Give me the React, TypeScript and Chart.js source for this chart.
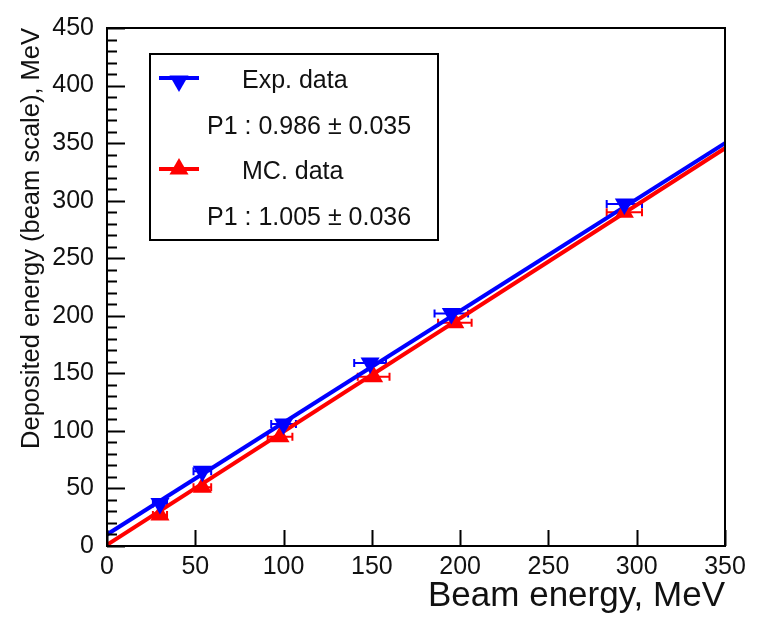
import React, { useEffect, useRef } from 'react';
import { Chart, registerables } from 'chart.js';

Chart.register(...registerables);

// ---- data ----
const beamEnergyExp = [30, 54, 100, 149, 195, 293];
const depositedExp = [37, 65, 106, 159, 202, 297];
const beamErrExp = [4, 5, 7, 9, 9.5, 10];

const beamEnergyMC = [30, 54, 98, 151, 197, 293];
const depositedMC = [27, 51, 95, 147, 194, 290];
const beamErrMC = [4, 5, 7, 9, 9.5, 10];

const fitX = [0, 350];
const fitExp = [10, 350];
const fitMC = [1, 345.5];

const xTicks = [0, 50, 100, 150, 200, 250, 300, 350];
const yTicks = [0, 50, 100, 150, 200, 250, 300, 350, 400, 450];
const yMinorStep = 10;

const seriesNames = ['Exp. data', 'MC. data'];
const fitLabels = ['P1 : 0.986 \u00b1 0.035', 'P1 : 1.005 \u00b1 0.036'];
const xTitle = 'Beam energy, MeV';
const yTitle = 'Deposited energy (beam scale), MeV';

const BLUE = '#0000ff';
const RED = '#ff0000';
const FONT = "'Liberation Sans', Arial, Helvetica, sans-serif";

function triangle(ctx: CanvasRenderingContext2D, x: number, y: number, r: number, down: boolean, color: string) {
  ctx.save();
  ctx.fillStyle = color;
  ctx.beginPath();
  const s = down ? -1 : 1;
  ctx.moveTo(x, y - s * r);
  ctx.lineTo(x + r * 0.866, y + s * r * 0.5);
  ctx.lineTo(x - r * 0.866, y + s * r * 0.5);
  ctx.closePath();
  ctx.fill();
  ctx.restore();
}

const rootPlugin = {
  id: 'rootStyle',
  beforeDatasetsDraw(chart: any) {
    const { ctx, scales } = chart;
    const xs = scales.x;
    const ys = scales.y;
    chart.data.datasets.forEach((ds: any) => {
      if (!ds.xErr) return;
      ctx.save();
      ctx.strokeStyle = ds.borderColor;
      ctx.lineWidth = 2;
      ds.data.forEach((p: any, i: number) => {
        const e = ds.xErr[i];
        const x1 = xs.getPixelForValue(p.x - e);
        const x2 = xs.getPixelForValue(p.x + e);
        const y = ys.getPixelForValue(p.y);
        ctx.beginPath();
        ctx.moveTo(x1, y);
        ctx.lineTo(x2, y);
        ctx.moveTo(x1, y - 4);
        ctx.lineTo(x1, y + 4);
        ctx.moveTo(x2, y - 4);
        ctx.lineTo(x2, y + 4);
        ctx.stroke();
      });
      ctx.restore();
    });
  },
  afterDraw(chart: any) {
    const { ctx, chartArea: a, scales } = chart;
    const xs = scales.x;
    const ys = scales.y;
    ctx.save();
    ctx.strokeStyle = '#000';
    ctx.lineWidth = 2;
    ctx.strokeRect(a.left, a.top, a.right - a.left, a.bottom - a.top);
    ctx.beginPath();
    for (let v = yTicks[0]; v <= yTicks[yTicks.length - 1]; v += yMinorStep) {
      const y = Math.round(ys.getPixelForValue(v)) + 0.5;
      const len = yTicks.includes(v) ? 18 : 10;
      ctx.moveTo(a.left, y);
      ctx.lineTo(a.left + len, y);
    }
    xTicks.forEach((v) => {
      const x = Math.round(xs.getPixelForValue(v)) + 0.5;
      ctx.moveTo(x, a.bottom);
      ctx.lineTo(x, a.bottom - 16);
    });
    ctx.lineWidth = 2;
    ctx.stroke();

    // legend box
    const bx = a.left + 43;
    const by = a.top + 26;
    const bw = 288;
    const bh = 186;
    ctx.fillStyle = '#fff';
    ctx.fillRect(bx, by, bw, bh);
    ctx.strokeStyle = '#000';
    ctx.lineWidth = 2;
    ctx.strokeRect(bx, by, bw, bh);

    const colors = [BLUE, RED];
    const rowY = [by + 26, by + 117];
    ctx.font = `25px ${FONT}`;
    ctx.textBaseline = 'middle';
    ctx.textAlign = 'left';
    rowY.forEach((ry, i) => {
      ctx.strokeStyle = colors[i];
      ctx.lineWidth = 4;
      ctx.beginPath();
      ctx.moveTo(bx + 9, ry - 2);
      ctx.lineTo(bx + 49, ry - 2);
      ctx.stroke();
      triangle(ctx, bx + 29, ry + (i === 0 ? 1 : -2), 11, i === 0, colors[i]);
      ctx.fillStyle = '#111';
      ctx.fillText(seriesNames[i], bx + 92, ry + 1);
      ctx.fillText(fitLabels[i], bx + 57, ry + 47);
    });
    ctx.restore();
  },
};

export default function App() {
  const ref = useRef<HTMLCanvasElement>(null);
  useEffect(() => {
    if (!ref.current) return;
    const mk = (xa: number[], ya: number[]) => xa.map((x, i) => ({ x, y: ya[i] }));
    const chart = new Chart(ref.current, {
      type: 'scatter',
      data: {
        datasets: [
          {
            label: 'Exp. fit',
            data: mk(fitX, fitExp),
            showLine: true,
            borderColor: BLUE,
            borderWidth: 4,
            pointRadius: 0,
            order: 3,
          } as any,
          {
            label: 'MC. fit',
            data: mk(fitX, fitMC),
            showLine: true,
            borderColor: RED,
            borderWidth: 4,
            pointRadius: 0,
            order: 4,
          } as any,
          {
            label: seriesNames[0],
            data: mk(beamEnergyExp, depositedExp),
            xErr: beamErrExp,
            borderColor: BLUE,
            backgroundColor: BLUE,
            pointStyle: 'triangle',
            pointRotation: 180,
            pointRadius: 11,
            pointBorderWidth: 0,
            order: 1,
          } as any,
          {
            label: seriesNames[1],
            data: mk(beamEnergyMC, depositedMC),
            xErr: beamErrMC,
            borderColor: RED,
            backgroundColor: RED,
            pointStyle: 'triangle',
            pointRadius: 11,
            pointBorderWidth: 0,
            order: 2,
          } as any,
        ],
      },
      options: {
        animation: false,
        responsive: false,
        maintainAspectRatio: false,
        layout: { padding: { left: 0, top: 17, right: 44, bottom: 0 } },
        plugins: { legend: { display: false }, tooltip: { enabled: false } },
        scales: {
          x: {
            type: 'linear',
            min: 0,
            max: 350,
            afterBuildTicks: (s: any) => {
              s.ticks = xTicks.map((v) => ({ value: v }));
            },
            afterFit: (s: any) => {
              s.height = 74;
            },
            grid: { display: false, drawTicks: false },
            border: { display: false },
            ticks: { color: '#111', font: { family: FONT, size: 25 }, padding: 6, maxRotation: 0, autoSkip: false },
            title: {
              display: true,
              text: xTitle,
              align: 'end',
              color: '#111',
              font: { family: FONT, size: 35 },
              padding: { top: 0, bottom: 3 },
            },
          },
          y: {
            type: 'linear',
            min: 0,
            max: 450,
            afterBuildTicks: (s: any) => {
              s.ticks = yTicks.map((v) => ({ value: v }));
            },
            afterFit: (s: any) => {
              s.width = 107;
            },
            grid: { display: false, drawTicks: false },
            border: { display: false },
            ticks: { color: '#111', font: { family: FONT, size: 25 }, padding: 13, autoSkip: false },
            title: {
              display: true,
              text: yTitle,
              align: 'end',
              color: '#111',
              font: { family: FONT, size: 25.5 },
              padding: { top: 17, bottom: 0 },
            },
          },
        },
      },
      plugins: [rootPlugin],
    });
    return () => chart.destroy();
  }, []);
  return (
    <div style={{ position: 'fixed', left: 0, top: 0, width: 769, height: 620, background: '#fff' }}>
      <canvas ref={ref} width={769} height={620} style={{ width: 769, height: 620 }} />
    </div>
  );
}
